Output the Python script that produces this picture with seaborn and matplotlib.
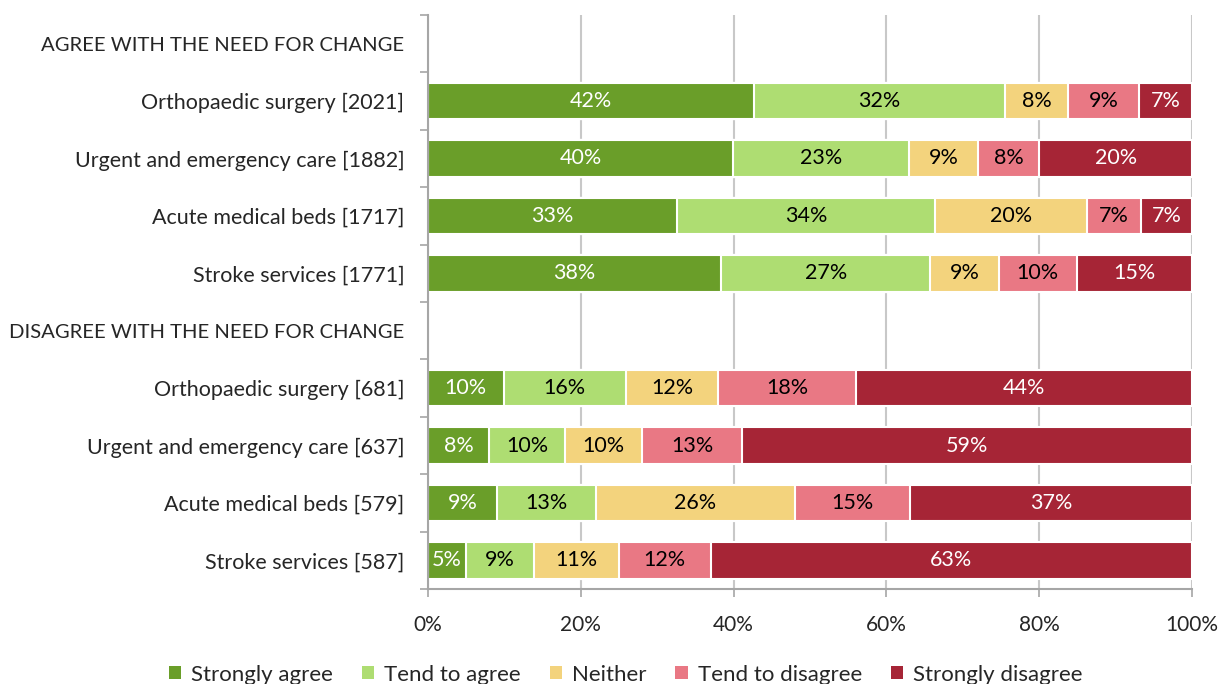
import numpy as np
import pandas as pd
import matplotlib
matplotlib.use("Agg")
import matplotlib.pyplot as plt
import seaborn as sns
from matplotlib.patches import Patch

sns.set_theme(style="white")
plt.rcParams['font.family'] = ['Lato', 'DejaVu Sans']

rows = ["AGREE WITH THE NEED FOR CHANGE",
        "Orthopaedic surgery [2021]",
        "Urgent and emergency care [1882]",
        "Acute medical beds [1717]",
        "Stroke services [1771]",
        "DISAGREE WITH THE NEED FOR CHANGE",
        "Orthopaedic surgery [681]",
        "Urgent and emergency care [637]",
        "Acute medical beds [579]",
        "Stroke services [587]"]

series = ["Strongly agree", "Tend to agree", "Neither", "Tend to disagree", "Strongly disagree"]

# segment widths (percent); header rows have none
strongly_agree    = [np.nan, 42.7, 39.9, 32.6, 38.4, np.nan, 9.9, 8.0, 9.0, 5.0]
tend_agree        = [np.nan, 32.8, 23.1, 33.8, 27.3, np.nan, 16.0, 9.9, 13.0, 8.9]
neither           = [np.nan, 8.3, 9.0, 19.9, 9.0, np.nan, 12.1, 10.1, 26.0, 11.1]
tend_disagree     = [np.nan, 9.3, 8.0, 7.0, 10.2, np.nan, 18.0, 13.1, 15.1, 12.0]
strongly_disagree = [np.nan, 6.9, 20.0, 6.7, 15.1, np.nan, 44.0, 58.9, 36.9, 63.0]

# printed labels
lab_sa  = ["", "42%", "40%", "33%", "38%", "", "10%", "8%", "9%", "5%"]
lab_ta  = ["", "32%", "23%", "34%", "27%", "", "16%", "10%", "13%", "9%"]
lab_ne  = ["", "8%", "9%", "20%", "9%", "", "12%", "10%", "26%", "11%"]
lab_td  = ["", "9%", "8%", "7%", "10%", "", "18%", "13%", "15%", "12%"]
lab_sd  = ["", "7%", "20%", "7%", "15%", "", "44%", "59%", "37%", "63%"]

colors = ["#6A9E29", "#AEDD72", "#F3D37D", "#E97884", "#A62536"]
text_colors = ["white", "black", "black", "black", "white"]

vals = np.array([strongly_agree, tend_agree, neither, tend_disagree, strongly_disagree])
labels = [lab_sa, lab_ta, lab_ne, lab_td, lab_sd]
cum = np.nancumsum(vals, axis=0)
cum[:, np.isnan(vals[0])] = np.nan

fig = plt.figure(figsize=(12.22, 6.84), dpi=100)
ax = fig.add_axes([428/1222, 1-589/684, (1192-428)/1222, (589-15)/684])

# draw from the last cumulative (back) to the first (front) to form stacks
for i in range(len(series) - 1, -1, -1):
    df = pd.DataFrame({"row": rows, "cum": cum[i]})
    sns.barplot(data=df, x="cum", y="row", order=rows, color=colors[i],
                saturation=1, width=0.64, edgecolor="white", linewidth=1.5,
                ax=ax, orient="h", zorder=3)

# data labels
for i in range(len(series)):
    for j, r in enumerate(rows):
        if np.isnan(vals[i, j]):
            continue
        start = cum[i, j] - vals[i, j]
        ax.text(start + vals[i, j] / 2, j, labels[i][j], ha="center", va="center",
                color=text_colors[i], fontsize=15.5, zorder=5)

ax.set_xlim(0, 100)
ax.set_ylim(len(rows) - 0.5, -0.5)
ax.set_xticks([0, 20, 40, 60, 80, 100])
ax.set_xticklabels(["0%", "20%", "40%", "60%", "80%", "100%"], fontsize=15)
ax.set_yticks(range(len(rows)))
ax.set_yticklabels(rows, fontsize=15.5)
for t in ax.get_yticklabels():
    if t.get_text().isupper():
        t.set_fontsize(14.6)
ax.set_yticks(np.arange(-0.5, len(rows), 1), minor=True)
ax.tick_params(axis="y", which="major", length=0, pad=17)
ax.tick_params(axis="y", which="minor", length=6, width=1.2, color="#A6A6A6", direction="out", left=True)
ax.tick_params(axis="x", which="major", length=6, width=1.2, color="#A6A6A6", direction="out", bottom=True, pad=13)
ax.set_xlabel("")
ax.set_ylabel("")
ax.xaxis.grid(True, color="#C8C8C8", linewidth=1.5, zorder=0)
ax.set_axisbelow(True)
for s in ["top", "right"]:
    ax.spines[s].set_visible(False)
for s in ["left", "bottom"]:
    ax.spines[s].set_color("#A6A6A6")
    ax.spines[s].set_linewidth(1.5)
    ax.spines[s].set_zorder(4)

handles = [Patch(facecolor=c, edgecolor="none") for c in colors]
fig.legend(handles, series, loc="lower center", bbox_to_anchor=(0.512, -0.03), ncol=5,
           frameon=False, fontsize=16, handlelength=0.55, handleheight=0.55,
           handletextpad=0.45, columnspacing=1.3)

fig.savefig("out.png", dpi=100)
